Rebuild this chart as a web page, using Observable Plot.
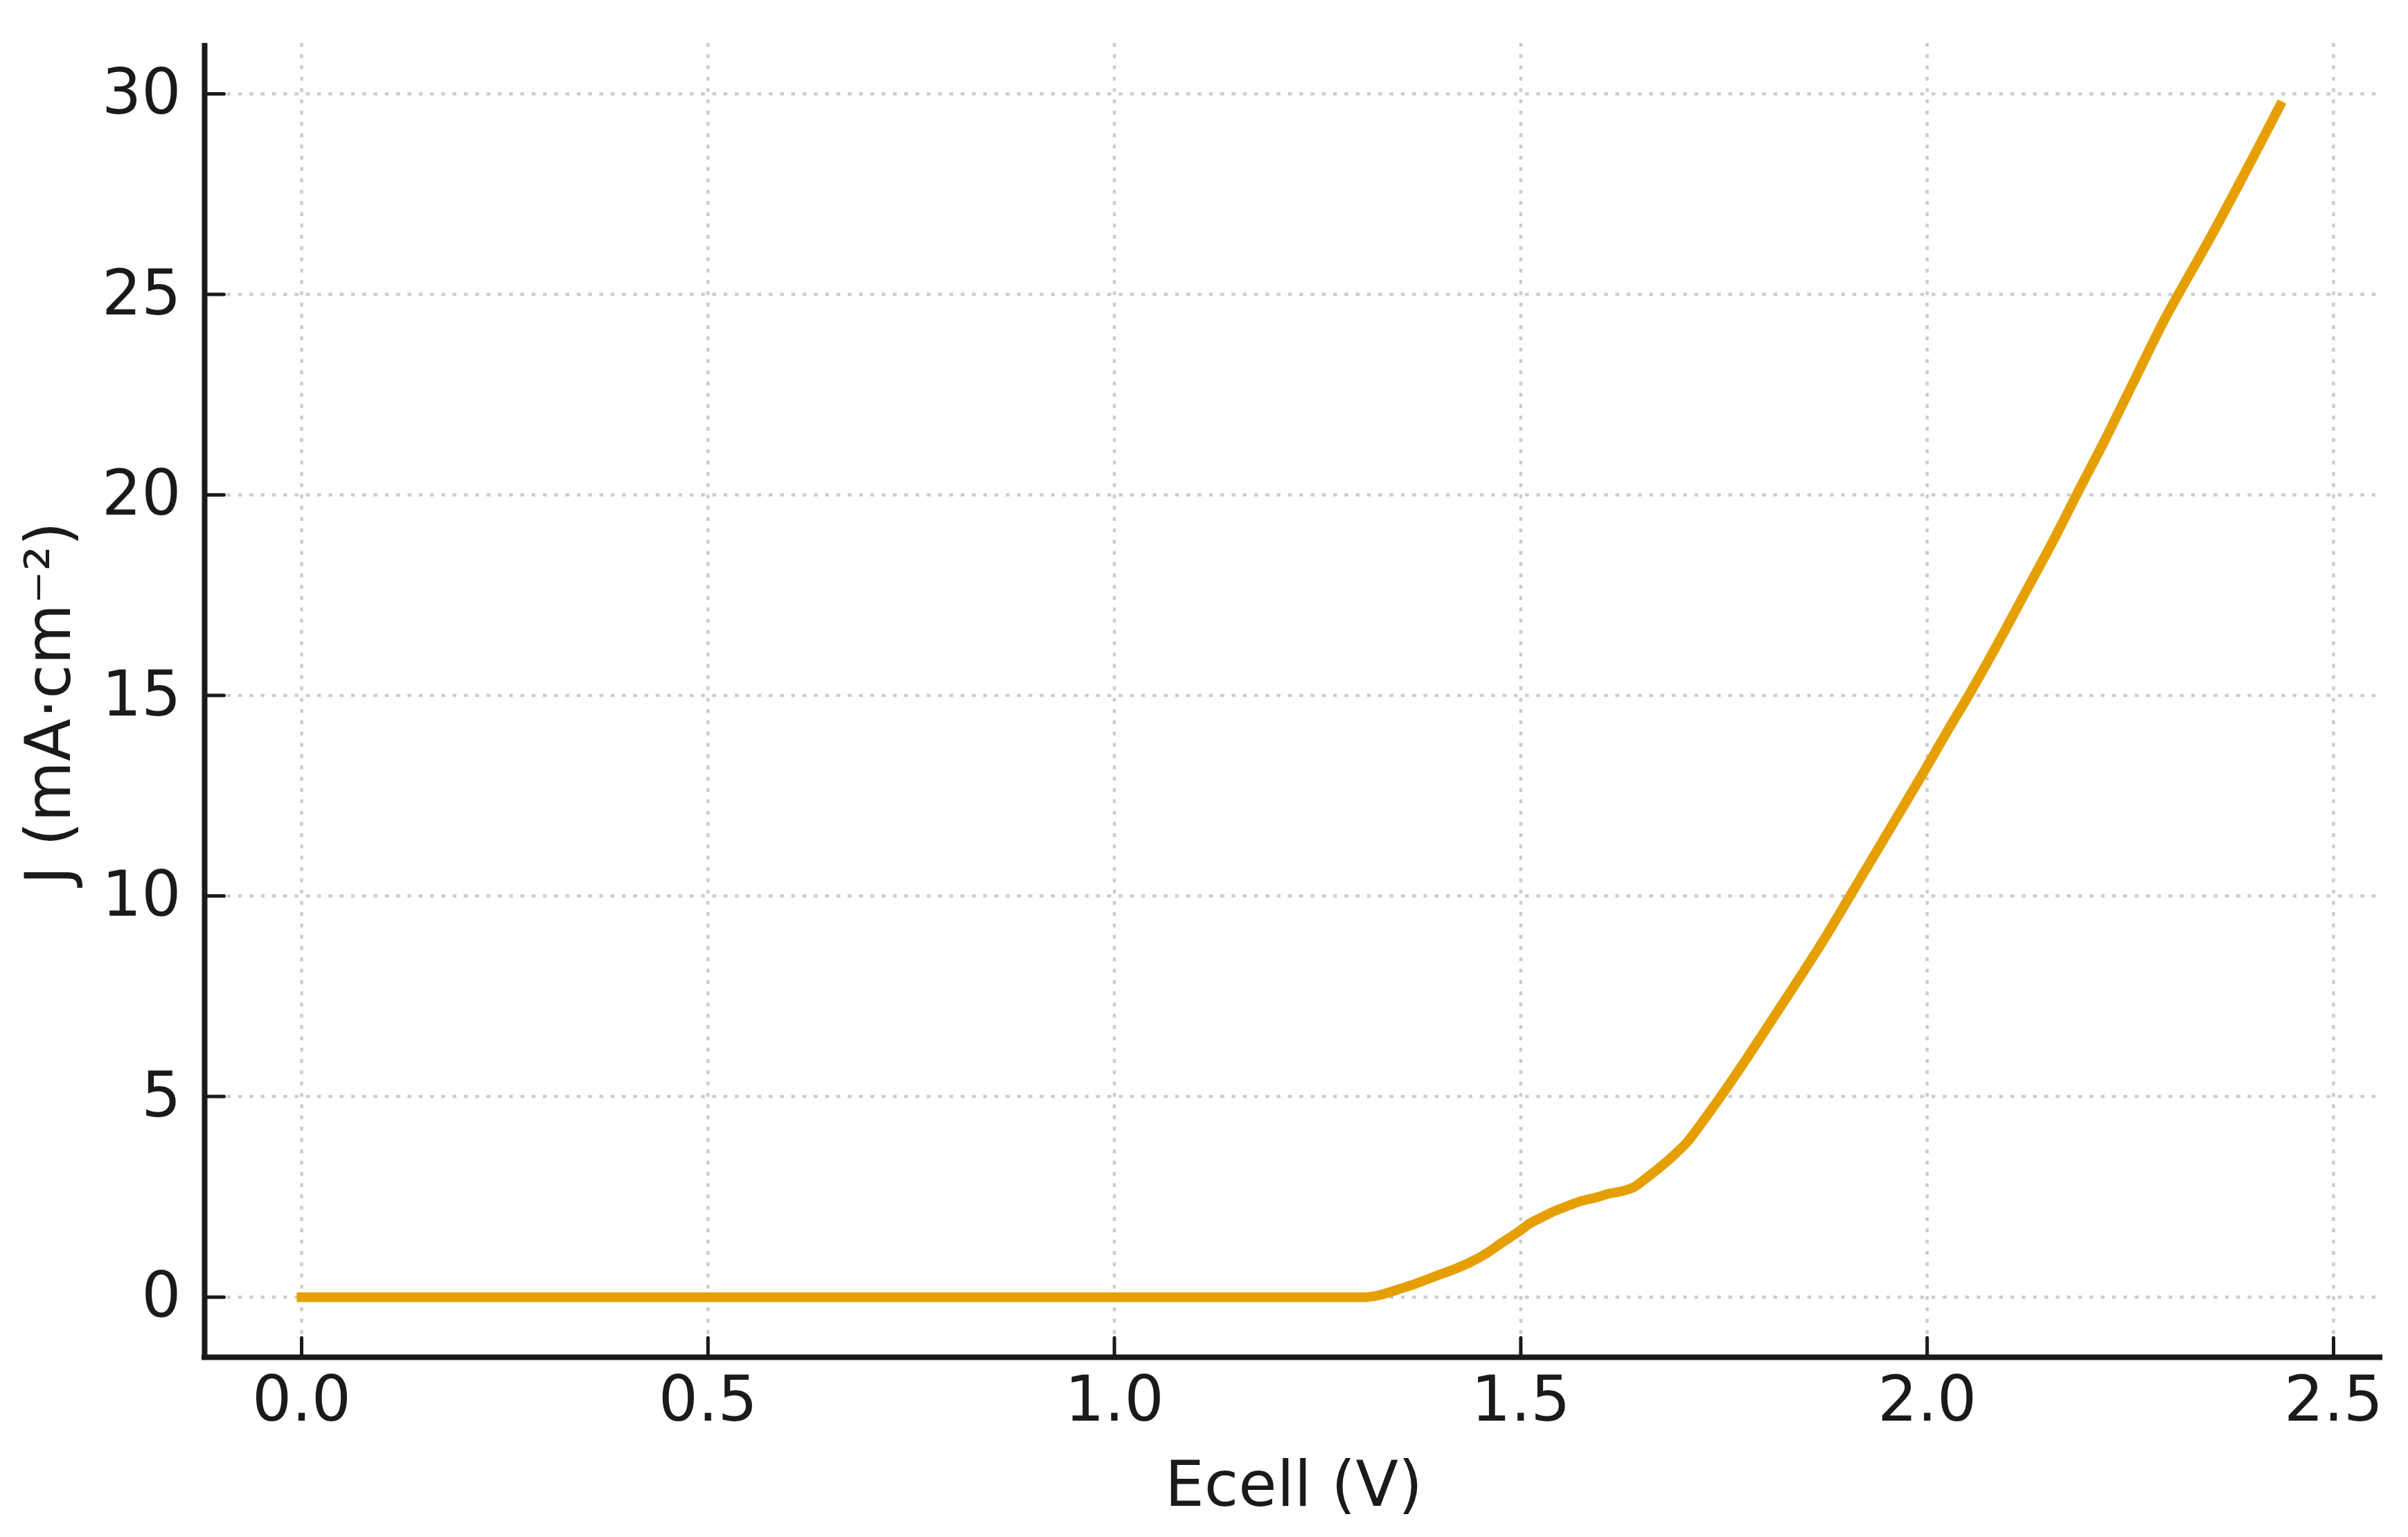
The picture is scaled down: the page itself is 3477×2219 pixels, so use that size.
<!DOCTYPE html>
<html>
<head>
<meta charset="utf-8">
<script src="https://cdn.jsdelivr.net/npm/d3@7"></script>
<script src="https://cdn.jsdelivr.net/npm/@observablehq/plot@0.6"></script>
<style>
  html, body { margin: 0; padding: 0; background: #ffffff; }
  #chart svg { display: block; }
</style>
</head>
<body>
<div id="chart"></div>
<script>
// Cell voltage (V)
const ecell = [
  0.000, 1.310, 1.330, 1.346, 1.370, 1.395, 1.420, 1.437, 1.460, 1.477,
  1.498, 1.509, 1.525, 1.541, 1.560, 1.575, 1.592, 1.607, 1.628, 1.640,
  1.652, 1.666, 1.689, 1.705, 1.720, 1.745, 1.762, 1.791, 1.820, 1.849,
  1.878, 1.905, 1.930, 1.955, 1.996, 2.026, 2.051, 2.083, 2.115, 2.160,
  2.185, 2.217, 2.256, 2.294, 2.309, 2.348, 2.385, 2.407, 2.434
];
// Current density J (mA·cm⁻²)
const current = [
  0.00, 0.00, 0.07, 0.17, 0.33, 0.52, 0.71, 0.86, 1.12, 1.36,
  1.64, 1.81, 1.98, 2.14, 2.29, 2.40, 2.48, 2.57, 2.66, 2.75,
  2.93, 3.15, 3.55, 3.87, 4.27, 4.97, 5.47, 6.35, 7.25, 8.15,
  9.08, 10.00, 10.85, 11.70, 13.10, 14.15, 15.00, 16.15, 17.35, 19.05,
  20.05, 21.30, 22.90, 24.45, 25.00, 26.40, 27.80, 28.65, 29.70
];
const xTicks = [0, 0.5, 1.0, 1.5, 2.0, 2.5];
const yTicks = [0, 5, 10, 15, 20, 25, 30];
const xLabel = "Ecell (V)";
const yLabel = "J (mA·cm⁻²)";

const data = ecell.map((e, i) => ({E: e, J: current[i]}));

const xDomain = [-0.1193, 2.5605];
const yDomain = [-1.50, 31.26];

const ink = "#1a1a1a";
const fs = 90;
const gridStyle = {stroke: "#cccccc", strokeOpacity: 1, strokeWidth: 4.5, strokeDasharray: "5.5,10.8"};
const tickShape = {draw(context, l) { context.moveTo(0, 0); context.lineTo(0, -l); }};

const chart = Plot.plot({
  width: 3477,
  height: 2219,
  marginLeft: 295,
  marginRight: 37,
  marginTop: 62,
  marginBottom: 260,
  style: {fontFamily: "'DejaVu Sans', sans-serif", fontSize: `${fs}px`, color: ink, background: "#ffffff"},
  x: {domain: xDomain},
  y: {domain: yDomain},
  marks: [
    Plot.gridX(xTicks, gridStyle),
    Plot.gridY(yTicks, gridStyle),
    Plot.line(data, {x: "E", y: "J", curve: "monotone-x", stroke: "#E69F00", strokeWidth: 14, strokeLinecap: "square", strokeLinejoin: "round"}),
    Plot.ruleX([xDomain[0]], {stroke: ink, strokeWidth: 8}),
    Plot.ruleY([yDomain[0]], {stroke: ink, strokeWidth: 8, insetLeft: -4}),
    Plot.vector(xTicks, {x: d => d, y: yDomain[0], length: 28, rotate: 0, anchor: "start", shape: tickShape, stroke: ink, strokeWidth: 5, fill: "none"}),
    Plot.vector(yTicks, {x: xDomain[0], y: d => d, length: 28, rotate: 90, anchor: "start", shape: tickShape, stroke: ink, strokeWidth: 5, fill: "none"}),
    Plot.axisX(xTicks, {tickSize: 0, tickPadding: 28, tickFormat: d3.format(".1f"), label: null, fontSize: fs}),
    Plot.axisY(yTicks, {tickSize: 0, tickPadding: 34, tickFormat: d3.format("d"), label: null, fontSize: fs}),
    Plot.text([xLabel], {frameAnchor: "bottom", textAnchor: "middle", lineAnchor: "bottom", dy: 214, fontSize: fs, fill: ink}),
    Plot.text([yLabel], {frameAnchor: "left", textAnchor: "middle", lineAnchor: "bottom", rotate: -90, dx: -195, dy: 4, fontSize: fs, fill: ink})
  ]
});
document.getElementById("chart").appendChild(chart);
</script>
</body>
</html>
